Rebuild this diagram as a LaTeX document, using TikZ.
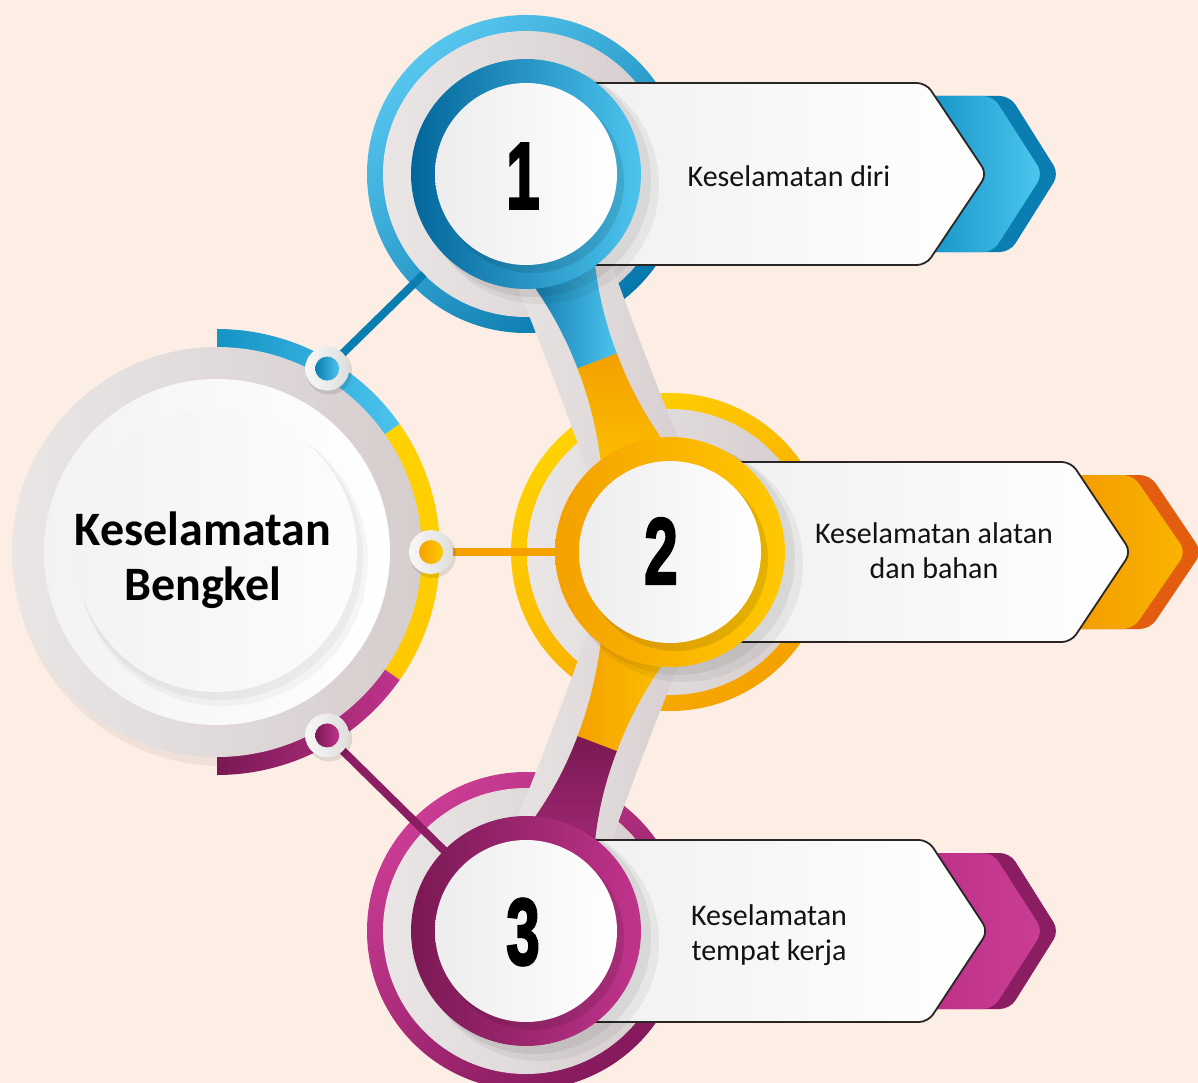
\documentclass[tikz,border=0pt]{standalone}
\usepackage{fontspec}
\usepackage{graphicx}
\setmainfont{Carlito}
\newfontfamily\numfont{Liberation Sans}[BoldFeatures={FakeBold=3}]
\usetikzlibrary{calc}

\definecolor{bgc}{HTML}{FCEEE5}
\definecolor{greyL}{HTML}{EAE6E6}
\definecolor{greyR}{HTML}{D6CDCD}
\definecolor{boxline}{HTML}{2A2626}
% blue family
\definecolor{bA}{HTML}{56C6EF}
\definecolor{bB}{HTML}{0677AA}
\definecolor{bC}{HTML}{03669A}
\definecolor{bD}{HTML}{4CC4EE}
\definecolor{bE}{HTML}{0A7DB1}
\definecolor{bF}{HTML}{1493C5}
\definecolor{bG}{HTML}{4DC7EF}
% yellow / orange family
\definecolor{yA}{HTML}{FFD200}
\definecolor{yB}{HTML}{F5A100}
\definecolor{yC}{HTML}{F4A000}
\definecolor{yD}{HTML}{FFC900}
\definecolor{oE}{HTML}{E35D0F}
\definecolor{oF}{HTML}{F29B00}
\definecolor{oG}{HTML}{FBB400}
% magenta family
\definecolor{mA}{HTML}{CA3C94}
\definecolor{mB}{HTML}{84195B}
\definecolor{mC}{HTML}{7A1953}
\definecolor{mD}{HTML}{C0348C}
\definecolor{mE}{HTML}{8B1D62}
\definecolor{mF}{HTML}{BE3089}
\definecolor{mG}{HTML}{C93E93}

\tikzset{
  outerring/.style 2 args={top color=#1,bottom color=#2,shading angle=40},
  hshade/.style 2 args={left color=#1,right color=#2},
  vshade/.style 2 args={top color=#1,bottom color=#2},
  greydisc/.style={left color=greyL,right color=greyR},
  whitedisc/.style={left color=white!93!black,right color=white},
  panel/.style={left color=white!94!black,right color=white,draw=boxline,line width=1.8pt,rounded corners=9pt},
  chev/.style={rounded corners=10pt},
  numtxt/.style={font=\numfont\bfseries\fontsize{94}{94}\selectfont},
  itemtxt/.style={font=\fontsize{30}{35}\selectfont,align=center,text=black!93},
  linkline/.style={line width=8pt},
  softshadow/.style={fill=black,opacity=#1}
}

% outline points of a pipe, in the pipe's own frame (s along, t across);
% #1 = prefix, #2 = position of the colour change along the pipe
\newcommand\pipepoints[2]{%
  \coordinate (#1g1) at (40,-50);  \coordinate (#1g2) at (150,-46);
  \coordinate (#1g3) at (255,-46); \coordinate (#1g4) at (365,-50);
  \coordinate (#1g5) at (365,50);  \coordinate (#1g6) at (255,46);
  \coordinate (#1g7) at (150,46);  \coordinate (#1g8) at (40,50);
  \coordinate (#1a1) at (60,-47);  \coordinate (#1a2) at (110,-30);
  \coordinate (#1a3) at ({#2-50},-21); \coordinate (#1a4) at ({#2+1},-21);
  \coordinate (#1a5) at ({#2+1},21);   \coordinate (#1a6) at ({#2-50},21);
  \coordinate (#1a7) at (110,30);  \coordinate (#1a8) at (60,47);
  \coordinate (#1b1) at (#2,-21);  \coordinate (#1b2) at ({#2+52},-21);
  \coordinate (#1b3) at (294,-30); \coordinate (#1b4) at (345,-47);
  \coordinate (#1b5) at (345,47);  \coordinate (#1b6) at (294,30);
  \coordinate (#1b7) at ({#2+52},21); \coordinate (#1b8) at (#2,21);
}

\begin{document}
\begin{tikzpicture}[x=1pt,y=-1pt]
\useasboundingbox (0,0) rectangle (1198,1083);
\fill[bgc] (0,0) rectangle (1198,1083);

\coordinate (c0) at (217,552);
\coordinate (n1) at (526,174);
\coordinate (n2) at (670,552);
\coordinate (n3) at (526,931);

% ---- central hub -------------------------------------------------
\path[softshadow=.05] ($(c0)+(5,6)$) circle (208pt);
\path[hshade={bF}{bD}] (c0) -- ($(c0)+(90:223pt)$) arc[start angle=90,end angle=35,radius=223pt] -- cycle;
\path[vshade={yA}{yD}] (c0) -- ($(c0)+(35:223pt)$) arc[start angle=35,end angle=-35,radius=223pt] -- cycle;
\path[hshade={mC}{mD}] (c0) -- ($(c0)+(-35:223pt)$) arc[start angle=-35,end angle=-90,radius=223pt] -- cycle;
\path[greydisc] (c0) circle (205pt);
\path[hshade={white!95!black}{white}] (c0) circle (173pt);
\path[softshadow=.035] ($(c0)+(6,9)$) circle (145pt);
\path[softshadow=.035] ($(c0)+(3,5)$) circle (143pt);
\path[hshade={white!95!black}{white!99!black}] ($(c0)+(-1,-1)$) circle (141pt);
\node[font=\bfseries\fontsize{48}{55}\selectfont,align=center] (hub) at (203,560) {Keselamatan\\Bengkel};

\coordinate (d1) at ($(c0)+(59:214pt)$);
\coordinate (d2) at ($(c0)+(0:214pt)$);
\coordinate (d3) at ($(c0)+(-59:214pt)$);

% ---- outer rings of the three steps ------------------------------
\path[outerring={bA}{bB}] (n1) circle (159pt);
\path[outerring={yA}{yB}] (n2) circle (159pt);
\path[outerring={mA}{mB}] (n3) circle (159pt);
\path[greydisc] (n1) circle (143pt);
\path[greydisc] (n2) circle (143pt);
\path[greydisc] (n3) circle (143pt);

% ---- links from the hub ------------------------------------------
\coordinate (e1) at ($(n1)!143pt!(d1)$);
\coordinate (e2) at ($(n2)!112pt!(d2)$);
\coordinate (e3) at ($(n3)!112pt!(d3)$);
\draw[linkline,bE] (d1) -- (e1);
\draw[linkline,yB] (d2) -- (e2);
\draw[linkline,mE] (d3) -- (e3);

\foreach \d/\ca/\cb in {d1/bE/bD, d2/yB/yD, d3/mC/mD}{
  \path[softshadow=.10] ($(\d)+(2,3)$) circle (23pt);
  \path[hshade={white!97!black}{white!87!black}] (\d) circle (22pt);
  \path[hshade={\ca}{\cb}] (\d) circle (12pt);
}

% ---- pipes joining the steps -------------------------------------
\begin{scope}[shift={(n1)},rotate=-69.15]
  \pipepoints{p}{200}
\end{scope}
\begin{scope}[shift={(n2)},rotate=-110.8]
  \pipepoints{q}{205}
\end{scope}
\path[hshade={greyL}{greyR}] (pg1) .. controls (pg2) and (pg3) .. (pg4) -- (pg5) .. controls (pg6) and (pg7) .. (pg8) -- cycle;
\path[hshade={bC}{bD}] (pa1) .. controls (pa2) and (pa3) .. (pa4) -- (pa5) .. controls (pa6) and (pa7) .. (pa8) -- cycle;
\path[vshade={yC}{yD}] (pb1) .. controls (pb2) and (pb3) .. (pb4) -- (pb5) .. controls (pb6) and (pb7) .. (pb8) -- cycle;
\path[hshade={greyL}{greyR}] (qg1) .. controls (qg2) and (qg3) .. (qg4) -- (qg5) .. controls (qg6) and (qg7) .. (qg8) -- cycle;
\path[hshade={yC}{yD}] (qa1) .. controls (qa2) and (qa3) .. (qa4) -- (qa5) .. controls (qa6) and (qa7) .. (qa8) -- cycle;
\path[vshade={mC}{mD!90!black}] (qb1) .. controls (qb2) and (qb3) .. (qb4) -- (qb5) .. controls (qb6) and (qb7) .. (qb8) -- cycle;

% ---- arrow tabs behind the panels ---------------------------------
\path[chev,fill=bE] (925,96) -- (1010,96) -- (1059,174) -- (1010,252) -- (925,252) -- cycle;
\path[chev,hshade={bF}{bG}] (925,96) -- (993,96) -- (1043,174) -- (993,252) -- (925,252) -- cycle;
\path[chev,fill=oE] (1070,475) -- (1150,475) -- (1202,552) -- (1150,629) -- (1070,629) -- cycle;
\path[chev,hshade={oF}{oG}] (1070,475) -- (1133,475) -- (1186,552) -- (1133,629) -- (1070,629) -- cycle;
\path[chev,fill=mE] (925,853) -- (1010,853) -- (1059,931) -- (1010,1009) -- (925,1009) -- cycle;
\path[chev,hshade={mF}{mG}] (925,853) -- (993,853) -- (1043,931) -- (993,1009) -- (925,1009) -- cycle;

% ---- text panels -------------------------------------------------
\path[panel] (560,83) -- (926,83) -- (987,174) -- (926,265) -- (560,265) -- cycle;
\path[panel] (710,462) -- (1071,462) -- (1131,552) -- (1071,642) -- (710,642) -- cycle;
\path[panel] (560,840) -- (928,840) -- (988,931) -- (928,1022) -- (560,1022) -- cycle;
\node[itemtxt] (t1) at (789,176) {Keselamatan diri};
\node[itemtxt] (t2) at (934,551) {Keselamatan alatan\\dan bahan};
\node[itemtxt] (t3) at (769,935) {Keselamatan\\tempat kerja};

% ---- inner rings and number discs -------------------------------
\foreach \n/\ca/\cb in {n1/bC/bD, n2/yC/yD, n3/mC/mD}{
  \path[softshadow=.05] ($(\n)+(14,11)$) circle (119pt);
  \path[softshadow=.06] ($(\n)+(8,6)$) circle (117pt);
  \path[hshade={\ca}{\cb}] (\n) circle (115pt);
  \path[softshadow=.10] ($(\n)+(6,7)$) circle (92pt);
  \path[whitedisc] (\n) circle (91pt);
}
\node[numtxt] (k1) at (523,176) {\scalebox{0.64}[1]{1}};
\node[numtxt] (k2) at (661,551) {\scalebox{0.64}[1]{2}};
\node[numtxt] (k3) at (523,932) {\scalebox{0.64}[1]{3}};
\end{tikzpicture}
\end{document}
